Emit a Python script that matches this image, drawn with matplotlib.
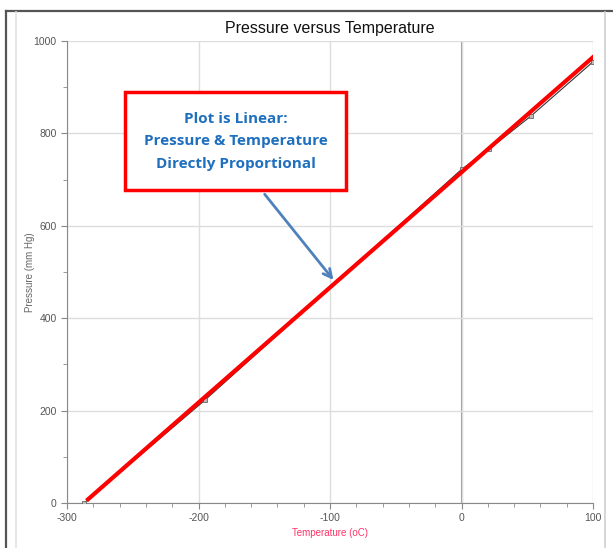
import matplotlib
matplotlib.use("Agg")
import matplotlib.pyplot as plt
from matplotlib.lines import Line2D
from matplotlib.patches import Rectangle

plt.rcParams["font.family"] = ["Liberation Sans", "DejaVu Sans"]
plt.rcParams["axes.unicode_minus"] = False

# data
temps = [-287, -195, 0, 21, 53, 100]
pressures = [0, 223, 722, 766, 838, 955]
fit_temps = [-284, 100]
fit_pressures = [8, 965]

x_ticks = [-300, -200, -100, 0, 100]
y_ticks = [0, 200, 400, 600, 800, 1000]

fig = plt.figure(figsize=(6.13, 5.48), dpi=100)
ax = fig.add_axes([67 / 613, 45 / 548, 526 / 613, 462 / 548])

# screenshot frame
fig.add_artist(Line2D([6 / 613, 6 / 613], [0, 1 - 11 / 548], transform=fig.transFigure, color="#555555", lw=1.6))
fig.add_artist(Line2D([6 / 613, 1], [1 - 11 / 548, 1 - 11 / 548], transform=fig.transFigure, color="#555555", lw=1.6))
fig.add_artist(Line2D([16 / 613, 16 / 613], [0, 1 - 12 / 548], transform=fig.transFigure, color="#e2e2e2", lw=1.2))
fig.add_artist(Line2D([605 / 613, 605 / 613], [0, 1 - 12 / 548], transform=fig.transFigure, color="#d0d0d0", lw=1.2))

ax.set_xlim(-300, 100)
ax.set_ylim(0, 1000)
ax.set_xticks(x_ticks)
ax.set_yticks(y_ticks)
ax.set_xticks(range(-300, 101, 20), minor=True)
ax.set_yticks(range(0, 1001, 100), minor=True)
ax.grid(True, which="major", color="#dddddd", lw=1)
ax.axvline(0, color="#999999", lw=1.5, zorder=1)

for s in ["top", "right"]:
    ax.spines[s].set_visible(False)
for s in ["left", "bottom"]:
    ax.spines[s].set_color("#888888")
ax.tick_params(which="both", colors="#888888", labelcolor="#555555", labelsize=7.5, length=4)
ax.tick_params(which="minor", length=3)

ax.plot(temps, pressures, color="#333333", lw=0.8, marker="s", markersize=3,
        markerfacecolor="#bbbbbb", markeredgecolor="#666666", markeredgewidth=0.6, zorder=3)
ax.plot(fit_temps, fit_pressures, color="#ff0000", lw=3, zorder=4)

ax.set_title("Pressure versus Temperature", fontsize=11.5, color="#111111", pad=6)
ax.set_xlabel("Temperature (oC)", fontsize=7, color="#ff3366", labelpad=3)
ax.set_ylabel("Pressure (mm Hg)", fontsize=7, color="#666666", labelpad=-1)

# callout box
ax.add_patch(Rectangle((-255.9, 677.5), 168.1, 212.1, facecolor="white",
                       edgecolor="#ff0000", lw=2.5, zorder=6))
ax.annotate("", xy=(-96, 478), xytext=(-151, 673),
            arrowprops=dict(arrowstyle="->", color="#4f81bd", lw=2, mutation_scale=15), zorder=5)
ax.text(-171.9, 783, "Plot is Linear:\nPressure & Temperature\nDirectly Proportional",
        ha="center", va="center", fontsize=11, fontweight="bold", color="#1f6fbf",
        family="Open Sans", linespacing=1.75, zorder=7)

fig.savefig("out.png", dpi=100)
